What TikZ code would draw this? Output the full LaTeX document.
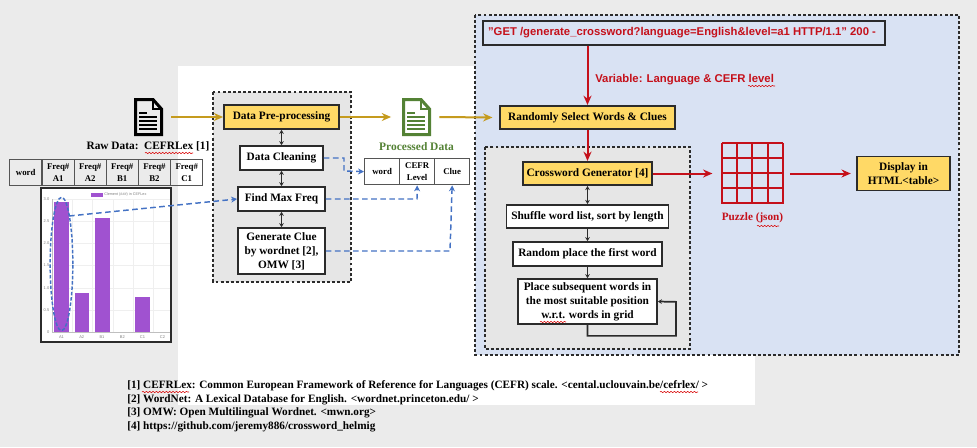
\documentclass[tikz,border=0pt]{standalone}
\usepackage{fontspec}
\setmainfont{Liberation Serif}
\setsansfont{Liberation Sans}
\usetikzlibrary{arrows.meta,decorations.pathmorphing,shapes.geometric}
\definecolor{bggray}{HTML}{EBEBEB}
\definecolor{panelblue}{HTML}{D9E2F3}
\definecolor{panelgray}{HTML}{E6E6E6}
\definecolor{boxyellow}{HTML}{FFD966}
\definecolor{edgedark}{HTML}{2B2B2B}
\definecolor{gold}{HTML}{C59B1E}
\definecolor{docgreen}{HTML}{548235}
\definecolor{dashblue}{HTML}{4472C4}
\definecolor{redline}{HTML}{C5101A}
\definecolor{barpurple}{HTML}{A052D0}
\definecolor{gridgray}{HTML}{EFEFEF}
\tikzset{
  x=0.75pt,y=-0.75pt,
  panel/.style={draw=edgedark,dash pattern=on 2.2pt off 1.6pt,line width=1.1pt,fill=panelgray},
  plainbox/.style={draw=edgedark,line width=1.3pt,fill=white,align=center,inner sep=0pt,font=\fontsize{8.5}{10.4}\selectfont\bfseries},
  yellowbox/.style={plainbox,fill=boxyellow},
  cell/.style={draw=edgedark!80,line width=1pt,align=center,inner sep=0pt,font=\fontsize{6.6}{8.6}\selectfont\bfseries},
  goldarrow/.style={draw=gold,line width=1.5pt,-{Stealth[length=7pt,width=6pt]}},
  redarrow/.style={draw=redline,line width=1.5pt,-{Stealth[length=7pt,width=6pt]}},
  bluedash/.style={draw=dashblue,line width=1.1pt,dash pattern=on 4.2pt off 2.6pt,-{Stealth[length=4.5pt,width=4.5pt]}},
  twoway/.style={draw=edgedark,line width=1.3pt,{Stealth[length=3pt,width=3.5pt]}-{Stealth[length=3pt,width=3.5pt]}},
  oneway/.style={draw=edgedark,line width=1.3pt,-{Stealth[length=3pt,width=3.5pt]}},
  squiggle/.style={draw=red!85!black,line width=0.4pt,decorate,decoration={snake,amplitude=0.5pt,segment length=2.5pt}},
  tick/.style={font=\sffamily\fontsize{3}{3}\selectfont,text=black!50,inner sep=0pt},
  iconbox/.style={inner sep=0pt,minimum width=21.75pt,minimum height=28.5pt},
  doclines/.style={line width=1.5pt}
}
\newcommand{\docicon}[3]{%
  \begin{scope}[shift={(#1,#2)}]
    \draw[#3,line width=2.25pt,line join=miter] (1.5,1.5) -- (19,1.5) -- (27.5,11) -- (27.5,36.5) -- (1.5,36.5) -- cycle;
    \draw[#3,line width=1.6pt] (19,1.5) -- (19,11) -- (27.5,11);
    \foreach \yy in {19,23,27,31} \draw[#3,doclines] (5,\yy) -- (23,\yy);
    \draw[#3,doclines] (5,15) -- (13,15);
  \end{scope}}
\begin{document}
\begin{tikzpicture}
\useasboundingbox (0,0) rectangle (977,447);
\fill[bggray] (0,0) rectangle (977,447);
\fill[white] (178,66) rectangle (755,405);

% panels
\draw[panel,fill=panelblue] (475,15) rectangle (959,355);
\draw[panel] (485,147) rectangle (690,349);
\draw[panel] (213,92) rectangle (351,282);

% icons
\docicon{134}{98}{black}
\node[iconbox] (rawdoc) at (148.5,117) {};
\docicon{402}{98}{docgreen}
\node[iconbox] (procdoc) at (416.5,117) {};

% left panel boxes
\node[yellowbox,minimum width=86.25pt,minimum height=18pt] (dpp) at (281.5,117) {Data Pre-processing};
\node[plainbox,minimum width=62.25pt,minimum height=18pt] (clean) at (281.5,158) {Data Cleaning};
\node[plainbox,minimum width=65.25pt,minimum height=18pt] (maxf) at (281.5,199) {Find Max Freq};
\node[plainbox,minimum width=65.25pt,minimum height=34.5pt] (clue) at (281.5,251) {Generate Clue\\by wordnet [2],\\OMW [3]};
\draw[twoway] (dpp) -- (clean);
\draw[twoway] (clean) -- (maxf);
\draw[twoway] (maxf) -- (clue);

% raw data
\node[font=\fontsize{8.5}{10}\selectfont\bfseries,inner sep=0pt] (rawlabel) at (148,146) {Raw Data:\ \ CEFRLex [1]};
\foreach \nm/\xa/\tx in {r1/9/word,r2/41.5/{Freq\#\\A1},r3/73.5/{Freq\#\\A2},r4/105.5/{Freq\#\\B1},r5/137.7/{Freq\#\\B2},r6/170/{Freq\#\\C1}}
  \node[cell,anchor=north west,minimum width=24.1pt,minimum height=19.5pt] (\nm) at (\xa,159) {\tx};

% chart
\draw[edgedark,line width=1.3pt,fill=white] (41,188) rectangle (171,342);
\foreach \yy in {199,221.2,243.4,265.6,287.8,310} \draw[gridgray,line width=0.4pt] (52,\yy) -- (170,\yy);
\foreach \xx in {52,72.3,92.5,112.8,133,153.3} \draw[gridgray,line width=0.4pt] (\xx,199) -- (\xx,332);
\draw[black!25,line width=0.4pt] (52,199) -- (52,332) -- (170,332);
\fill[barpurple] (54,202) rectangle (69,332);
\fill[barpurple] (74.5,293) rectangle (89,332);
\fill[barpurple] (95,218) rectangle (109.5,332);
\fill[barpurple] (135,297) rectangle (149.5,332);
\fill[barpurple] (90.5,192.5) rectangle (102.5,196.5);
\node[tick,anchor=west,font=\sffamily\fontsize{2.8}{3}\selectfont] (legend) at (104,194.5) {Clement (\#\#\#) in CEFLex};
\foreach \yy/\lb in {199/3.0,221.2/2.5,243.4/2.0,265.6/1.5,287.8/1.0,310/0.5,332/0}
  \node[tick,anchor=east] at (49.5,\yy) {\lb};
\foreach \xx/\lb in {61.5/A1,81.7/A2,102/B1,122.3/B2,142.5/C1,162.5/C2}
  \node[tick] at (\xx,337) {\lb};
\node[draw=dashblue,dash pattern=on 2.6pt off 1.4pt,line width=1.1pt,ellipse,inner sep=0pt,minimum width=17pt,minimum height=100pt] (peak) at (61.5,264) {};
\coordinate (peakout) at (69,216);

% processed data
\node[font=\fontsize{8.6}{10}\selectfont\bfseries,text=docgreen,inner sep=0pt] (proclabel) at (416.5,147) {Processed Data};
\foreach \nm/\xa/\tx in {p1/364/word,p2/399/{CEFR\\Level},p3/434/Clue}
  \node[cell,anchor=north west,minimum width=26.25pt,minimum height=19.5pt] (\nm) at (\xa,158) {\tx};

% right panel
\node[draw=edgedark,line width=1.3pt,fill=panelblue,minimum width=301.5pt,minimum height=18pt,inner sep=0pt,font=\sffamily\fontsize{8.47}{10}\selectfont\bfseries,text=redline] (get) at (684,33) {"GET /generate\_crossword?language=English\&level=a1 HTTP/1.1" 200 -\hspace*{3pt}};
\node[yellowbox,minimum width=131.25pt,minimum height=17.5pt] (sel) at (587.5,117.5) {Randomly Select Words \& Clues};
\node[yellowbox,minimum width=96.75pt,minimum height=17.5pt] (gen) at (587.5,173.5) {Crossword Generator [4]};
\node[plainbox,minimum width=121.5pt,minimum height=17.5pt] (shuf) at (587.5,216.5) {Shuffle word list, sort by length};
\node[plainbox,minimum width=111.75pt,minimum height=18pt] (first) at (587.5,254) {Random place the first word};
\node[plainbox,minimum width=104.25pt,minimum height=33.75pt] (place) at (587.5,301.5) {Place subsequent words in\\the most suitable position\\w.r.t. words in grid};
\node[yellowbox,minimum width=69.75pt,minimum height=25.5pt] (html) at (903.5,173.5) {Display in\\HTML<table>};
\node[font=\sffamily\fontsize{8.5}{10}\selectfont\bfseries,text=redline,inner sep=0pt,anchor=west] (varlabel) at (595,80) {Variable: Language \& CEFR level};

% puzzle grid
\node[inner sep=0pt,minimum width=45.75pt,minimum height=45.75pt] (grid) at (752.5,173.5) {};
\foreach \k in {0,1,2,3,4} {
  \draw[redline,line width=1.6pt] (722+15.2*\k,143.3) -- (722+15.2*\k,204);
  \draw[redline,line width=1.6pt] (722,143.3+15*\k) -- (783,143.3+15*\k);
}
\node[font=\fontsize{8.4}{10}\selectfont\bfseries,text=redline,inner sep=0pt] (pzl) at (752.5,218) {Puzzle (json)};

% arrows
\draw[goldarrow] ([xshift=6pt]rawdoc.east) -- (dpp.west);
\draw[goldarrow] (dpp.east) -- ([xshift=-8pt]procdoc.west);
\draw[goldarrow] ([xshift=6pt]procdoc.east) -- ([xshift=-5pt]sel.west);
\draw[redarrow] (sel.north |- get.south) -- (sel.north);
\draw[redarrow] (sel) -- (gen);
\draw[redarrow] (gen.east) -- ([xshift=-7pt]grid.west);
\draw[redarrow] ([xshift=5pt]grid.east) -- ([xshift=-4pt]html.west);
\draw[twoway] (gen) -- (shuf);
\draw[oneway] (shuf) -- (first);
\draw[oneway] (first) -- (place);
\draw[draw=edgedark,line width=1.3pt,-{Stealth[length=3pt,width=3.5pt]}] (place.south) -- ++(0,11) -- ++(88.5,0) -- ++(0,-34) -- (place.east);

% dashed connectors
\draw[bluedash] (clean.east) -- (344,158) -- (344,171) -- (p1.west);
\draw[bluedash] (maxf.east) -- (417,199) -- (p2.south);
\draw[bluedash] (clue.east) -- (450,251) -- (p3.south);
\draw[bluedash] (peakout) -- (maxf.west);

% footer
\node[anchor=west,align=left,inner sep=0pt,font=\fontsize{8.43}{10.3}\selectfont\bfseries] (foot1) at (127,386) {[1] CEFRLex: Common European Framework of Reference for Languages (CEFR) scale. <cental.uclouvain.be/cefrlex/ >};
\node[anchor=west,inner sep=0pt,font=\fontsize{8.43}{10.3}\selectfont\bfseries] (foot2) at (127,399.5) {[2] WordNet: A Lexical Database for English. <wordnet.princeton.edu/ >};
\node[anchor=west,inner sep=0pt,font=\fontsize{8.43}{10.3}\selectfont\bfseries] (foot3) at (127,413) {[3] OMW: Open Multilingual Wordnet. <mwn.org>};
\node[anchor=west,inner sep=0pt,font=\fontsize{8.43}{10.3}\selectfont\bfseries] (foot4) at (127,427) {[4] https://github.com/jeremy886/crossword\_helmig};

% spelling squiggles
\draw[squiggle] (145,153) -- (193,153);
\draw[squiggle] (748,86) -- (775,86);
\draw[squiggle] (757,226) -- (779,226);
\draw[squiggle] (540,322) -- (566,322);
\draw[squiggle] (142,392) -- (189,392);
\draw[squiggle] (660,392) -- (698,392);
\end{tikzpicture}
\end{document}
